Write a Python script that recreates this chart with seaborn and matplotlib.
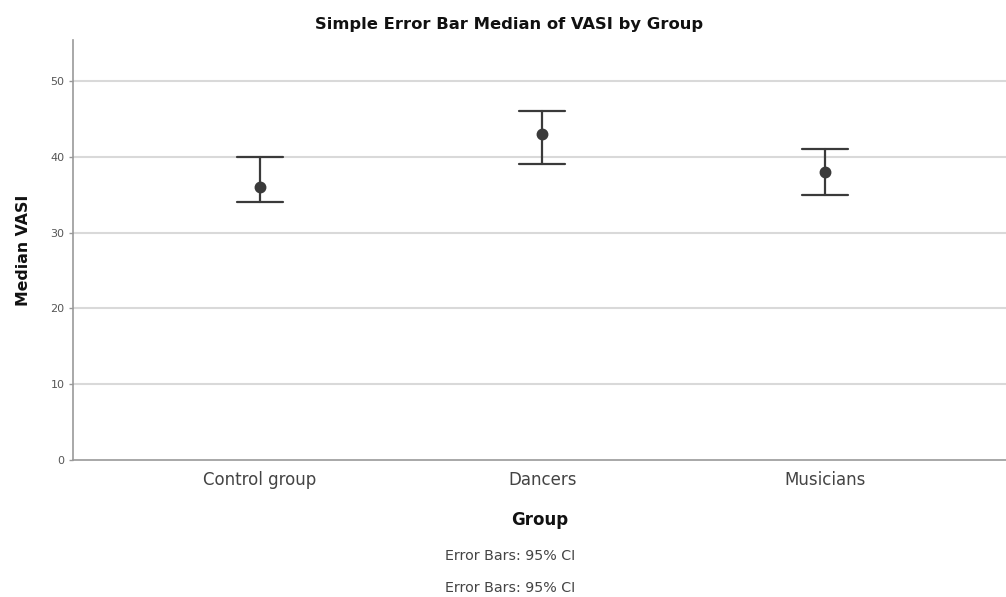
import numpy as np
import pandas as pd
import matplotlib
matplotlib.use("Agg")
import matplotlib.pyplot as plt
import seaborn as sns

groups = ["Control group", "Dancers", "Musicians"]
medians = [36, 43, 38]
ci_low = [34, 39, 35]
ci_high = [40, 46, 41]
yticks = [0, 10, 20, 30, 40, 50]

rows = []
for g, lo, m, hi in zip(groups, ci_low, medians, ci_high):
    for v in (lo, m, hi):
        rows.append({"Group": g, "VASI": v})
df = pd.DataFrame(rows)

sns.set_theme(style="white")
plt.rcParams["font.family"] = ["DejaVu Sans"]

fig = plt.figure(figsize=(10.06, 5.97), dpi=100)
ax = fig.add_axes([73/1006, 1-460/597, 1-73/1006, (460-40)/597])

for y in yticks[1:]:
    ax.axhline(y, color="#d9d9d9", lw=1.5, zorder=0)

sns.pointplot(data=df, x="Group", y="VASI", order=groups,
              estimator=np.median,
              errorbar=lambda x: (np.min(x), np.max(x)),
              linestyle="none", color="#3a3a3a", marker="o", markersize=6.5,
              capsize=0.163, err_kws={"linewidth": 1.6, "color": "#3a3a3a"},
              ax=ax)

ax.set_xlim(-0.66, 2.64)
ax.set_ylim(0, 55.4)
ax.set_yticks(yticks)
ax.tick_params(axis="y", labelsize=8, colors="#555555", length=3, width=1,
               pad=3, left=True, color="#999999")
ax.tick_params(axis="x", labelsize=12, colors="#444444", length=0, pad=8)
for s in ["top", "right"]:
    ax.spines[s].set_visible(False)
for s in ["left", "bottom"]:
    ax.spines[s].set_color("#999999")
    ax.spines[s].set_linewidth(1.2)

ax.set_ylabel("Median VASI", fontsize=11.3, fontweight="bold", color="#111111", labelpad=14)
ax.set_xlabel("Group", fontsize=12, fontweight="bold", color="#111111", labelpad=16)

fig.text(509/1006, 1-25/597, "Simple Error Bar Median of VASI by Group",
         ha="center", va="center", fontsize=11.8, fontweight="bold", color="#111111")
fig.text(510/1006, 1-556/597, "Error Bars: 95% CI", ha="center", va="center",
         fontsize=10.3, color="#444444")
fig.text(510/1006, 1-588/597, "Error Bars: 95% CI", ha="center", va="center",
         fontsize=10.3, color="#444444")

fig.savefig("out.png", dpi=100, facecolor="white")
